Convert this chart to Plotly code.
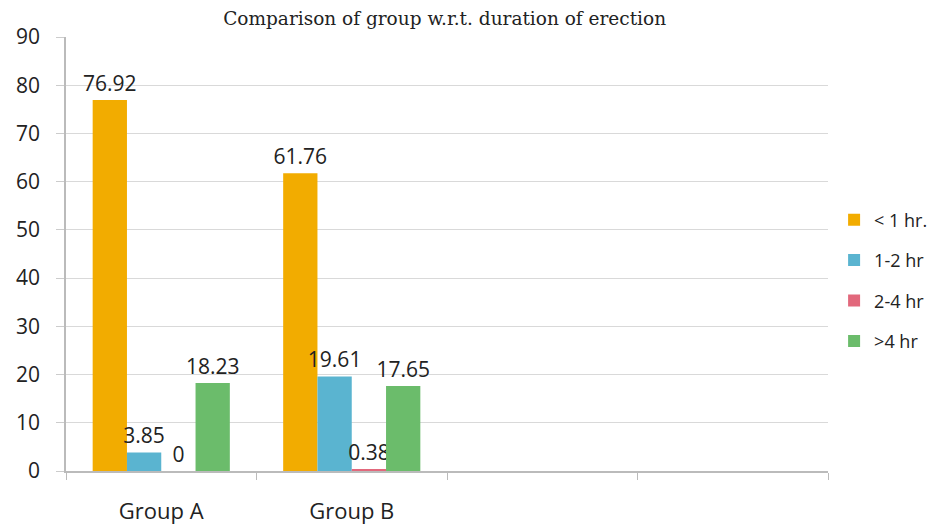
import plotly.graph_objects as go

categories = ["Group A", "Group B", " ", "  "]
groups = ["Group A", "Group B"]
series_names = ["< 1 hr.", "1-2 hr", "2-4 hr", ">4 hr"]
less_1 = [76.92, 61.76]
h1_2 = [3.85, 19.61]
h2_4 = [0, 0.38]
more_4 = [18.23, 17.65]
colors = ["#F2AC00", "#5AB4D0", "#E2687C", "#6BBC6B"]

values = [less_1, h1_2, h2_4, more_4]
font_family = "Open Sans, sans-serif"

fig = go.Figure()
for i, (name, vals) in enumerate(zip(series_names, values)):
    fig.add_trace(go.Bar(
        x=groups, y=vals, name=name, legendgroup="g%d" % i,
        marker=dict(color=colors[i], line=dict(width=0)),
        text=[("%g" % v) for v in vals],
        textposition="outside", constraintext="none",
        textfont=dict(size=21, color="#222", family=font_family),
        cliponaxis=False,
    ))

fig.update_layout(
    width=935, height=521,
    paper_bgcolor="white", plot_bgcolor="white",
    margin=dict(l=58, r=115, t=29, b=58, autoexpand=False),
    barmode="group", bargap=0.28, bargroupgap=0,
    title=dict(text="Comparison of group w.r.t. duration of erection",
               x=0.467, xanchor="center", y=0.979, yanchor="middle",
               font=dict(family="DejaVu Serif, serif", size=18.5, color="#222")),
    font=dict(family=font_family, color="#222"),
    legend=dict(x=1.008, xanchor="left", y=0.621, yanchor="top",
                font=dict(size=18, color="#222"), tracegroupgap=14,
                traceorder="grouped", itemwidth=30),
)
fig.update_xaxes(
    type="category", categoryorder="array", categoryarray=categories,
    range=[-0.5, 3.5], tickson="boundaries", ticks="outside", ticklen=7,
    tickcolor="#bbb", showline=True, linecolor="#bbb", linewidth=1.5,
    showgrid=False, tickfont=dict(size=22, color="#222"),
    automargin=False, ticklabelstandoff=20,
)
fig.update_yaxes(
    range=[0, 90], dtick=10, ticks="outside", ticklen=8, tickcolor="#ccc",
    showline=True, linecolor="#bbb", linewidth=1.5,
    gridcolor="#d9d9d9", gridwidth=1.2, zeroline=False,
    tickfont=dict(size=21, color="#222"), ticklabelstandoff=12,
    automargin=False,
)

fig.write_html("out.html")
